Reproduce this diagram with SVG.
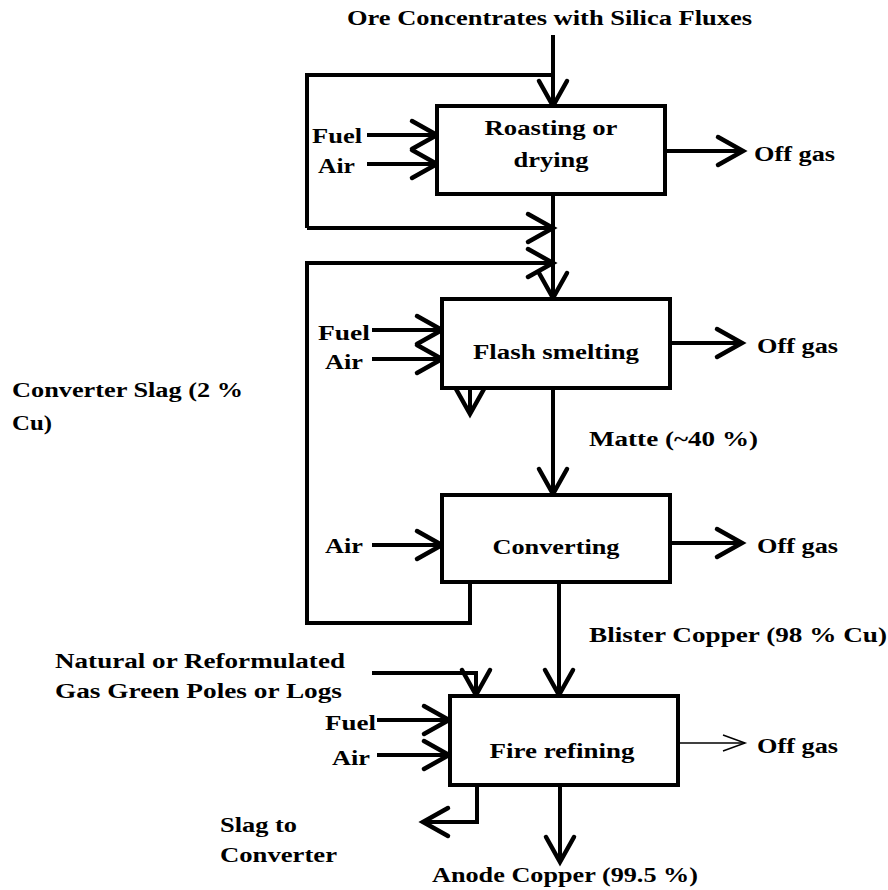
<svg xmlns="http://www.w3.org/2000/svg" width="888" height="890" viewBox="0 0 888 890">
<style>
text{font-family:"Liberation Serif","Times New Roman",serif;font-weight:bold;font-size:20px;fill:#000}
.box{fill:#fff;stroke:#000;stroke-width:4}
.ln{fill:none;stroke:#000;stroke-width:4}
.a{marker-end:url(#ah)}
.thin{fill:none;stroke:#000;stroke-width:1.5;marker-end:url(#aht)}
.c{text-anchor:middle}
</style>
<defs>
<marker id="ah" markerUnits="userSpaceOnUse" markerWidth="40" markerHeight="40" refX="0" refY="0" orient="auto" overflow="visible">
<path d="M-25,-14 L0,0 L-25,14" fill="none" stroke="#000" stroke-width="4.5" stroke-linecap="round"/>
</marker>
<marker id="aht" markerUnits="userSpaceOnUse" markerWidth="40" markerHeight="40" refX="0" refY="0" orient="auto" overflow="visible">
<path d="M-22,-8 L0,0 L-22,8" fill="none" stroke="#000" stroke-width="1.5"/>
</marker>
</defs>
<rect width="888" height="890" fill="#fff"/>
<g id="connectors">
<path class="ln a" d="M553,35 V106"/>
<path class="ln" d="M553,75 H307 V228"/>
<path class="ln a" d="M307,228 H553"/>
<path class="ln a" d="M367,135 H437"/>
<path class="ln a" d="M367,164 H437"/>
<path class="ln a" d="M665,151 H743"/>
<path class="ln a" d="M553,194 V298"/>
<path class="ln a" d="M470,582 V623 H307 V263 H553"/>
<path class="ln a" d="M372,330 H442"/>
<path class="ln a" d="M372,359 H442"/>
<path class="ln a" d="M670,343 H742"/>
<path class="ln a" d="M470,388 V414"/>
<path class="ln a" d="M553,388 V494"/>
<path class="ln a" d="M372,545 H442"/>
<path class="ln a" d="M670,543 H742"/>
<path class="ln a" d="M559,582 V695"/>
<path class="ln a" d="M372,673 H476 V695"/>
<path class="ln a" d="M377,720 H449"/>
<path class="ln a" d="M377,755 H449"/>
<path class="thin" d="M678,743 H745"/>
<path class="ln a" d="M477,785 V822 H423"/>
<path class="ln a" d="M560,785 V862"/>
</g>
<g id="roasting">
<rect class="box" x="437" y="106" width="228" height="88"/>
<text class="c" x="551" y="135" textLength="133" lengthAdjust="spacingAndGlyphs">Roasting or</text>
<text class="c" x="551" y="167" textLength="75" lengthAdjust="spacingAndGlyphs">drying</text>
</g>
<g id="flash">
<rect class="box" x="442" y="299" width="228" height="89"/>
<text class="c" x="556" y="359" textLength="166" lengthAdjust="spacingAndGlyphs">Flash smelting</text>
</g>
<g id="converting">
<rect class="box" x="442" y="495" width="228" height="87"/>
<text class="c" x="556" y="554" textLength="127" lengthAdjust="spacingAndGlyphs">Converting</text>
</g>
<g id="fire">
<rect class="box" x="450" y="696" width="228" height="89"/>
<text class="c" x="562" y="758" textLength="145" lengthAdjust="spacingAndGlyphs">Fire refining</text>
</g>
<g id="labels">
<text x="347" y="25" textLength="405" lengthAdjust="spacingAndGlyphs">Ore Concentrates with Silica Fluxes</text>
<text x="312" y="143" textLength="50" lengthAdjust="spacingAndGlyphs">Fuel</text>
<text x="318" y="173" textLength="37" lengthAdjust="spacingAndGlyphs">Air</text>
<text x="754" y="161" textLength="81" lengthAdjust="spacingAndGlyphs">Off gas</text>
<text x="318" y="340" textLength="52" lengthAdjust="spacingAndGlyphs">Fuel</text>
<text x="325" y="369" textLength="38" lengthAdjust="spacingAndGlyphs">Air</text>
<text x="757" y="353" textLength="81" lengthAdjust="spacingAndGlyphs">Off gas</text>
<text x="12" y="397" textLength="231" lengthAdjust="spacingAndGlyphs">Converter Slag (2 %</text>
<text x="12" y="430" textLength="40" lengthAdjust="spacingAndGlyphs">Cu)</text>
<text x="589" y="446" textLength="169" lengthAdjust="spacingAndGlyphs">Matte (~40 %)</text>
<text x="325" y="553" textLength="38" lengthAdjust="spacingAndGlyphs">Air</text>
<text x="757" y="553" textLength="81" lengthAdjust="spacingAndGlyphs">Off gas</text>
<text x="589" y="642" textLength="298" lengthAdjust="spacingAndGlyphs">Blister Copper (98 % Cu)</text>
<text x="55" y="668" textLength="290" lengthAdjust="spacingAndGlyphs">Natural or Reformulated</text>
<text x="55" y="698" textLength="287" lengthAdjust="spacingAndGlyphs">Gas Green Poles or Logs</text>
<text x="325" y="730" textLength="51" lengthAdjust="spacingAndGlyphs">Fuel</text>
<text x="332" y="765" textLength="38" lengthAdjust="spacingAndGlyphs">Air</text>
<text x="757" y="753" textLength="81" lengthAdjust="spacingAndGlyphs">Off gas</text>
<text x="220" y="832" textLength="77" lengthAdjust="spacingAndGlyphs">Slag to</text>
<text x="220" y="862" textLength="117" lengthAdjust="spacingAndGlyphs">Converter</text>
<text x="432" y="882" textLength="266" lengthAdjust="spacingAndGlyphs">Anode Copper (99.5 %)</text>
</g>
</svg>
